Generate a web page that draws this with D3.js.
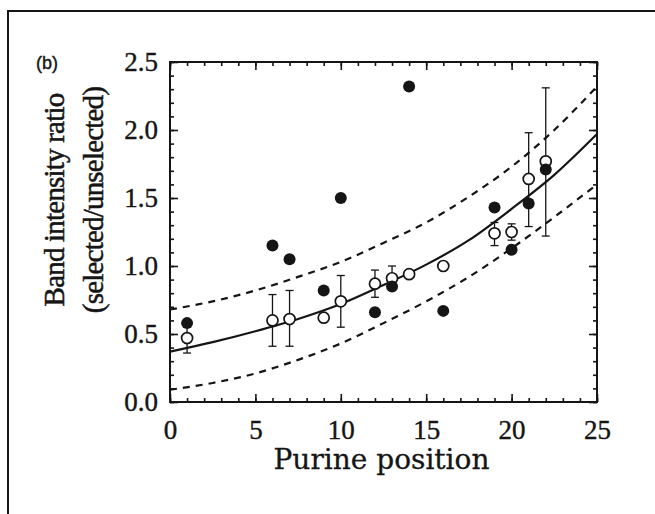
<!DOCTYPE html>
<html><head><meta charset="utf-8">
<script src="https://cdn.jsdelivr.net/npm/d3@7"></script>
<style>body{margin:0;background:#fff}svg{display:block}</style>
</head><body>
<svg id="c" width="655" height="514"></svg>
<script>
const xTickValues=[0,5,10,15,20,25];
const yTickValues=[0,0.5,1.0,1.5,2.0,2.5];
const filledX=[1,6,7,9,10,12,13,14,16,19,20,21,22];
const filledY=[0.58,1.15,1.05,0.82,1.50,0.66,0.85,2.32,0.67,1.43,1.12,1.46,1.71];
const openX=[1,6,7,9,10,12,13,14,16,19,20,21,22];
const openY=[0.47,0.60,0.61,0.62,0.74,0.87,0.91,0.94,1.00,1.24,1.25,1.64,1.77];
const openLo=[0.36,0.41,0.41,0.62,0.55,0.77,0.85,0.94,1.00,1.15,1.19,1.29,1.22];
const openHi=[0.55,0.79,0.82,0.62,0.93,0.97,1.00,0.94,1.00,1.32,1.31,1.98,2.31];
const fitX=[0,2.5,5,7.5,10,12.5,15,17.5,20,22.5,25];
const fitY=[0.37,0.44,0.52,0.61,0.72,0.86,1.01,1.19,1.42,1.67,1.97];
const upperY=[0.68,0.74,0.82,0.92,1.03,1.17,1.32,1.51,1.73,2.00,2.32];
const lowerY=[0.09,0.14,0.21,0.31,0.43,0.58,0.74,0.92,1.13,1.36,1.60];

const svg=d3.select("#c");
const L=170,R=597,T=62,B=402;
const x=d3.scaleLinear().domain([0,25]).range([L,R]);
const y=d3.scaleLinear().domain([0,2.5]).range([B,T]);
const ink="#151515";

// page border (top and left)
svg.append("path").attr("d","M8,514V11H655").attr("fill","none").attr("stroke",ink).attr("stroke-width",2);
svg.append("text").attr("x",36).attr("y",69).attr("font-family","Liberation Sans, Arial, sans-serif")
  .attr("font-size",18).attr("fill",ink).attr("stroke",ink).attr("stroke-width",0.4).text("(b)");

const minorX=d3.range(0,26,1), minorY=d3.range(0,26,1).map(d=>d/10);
function axisStyle(g){g.select(".domain").remove();g.selectAll("line").attr("stroke",ink).attr("stroke-width",1.6);}
const labelStyle=s=>s.attr("font-family","Liberation Serif, serif").attr("font-size",27).attr("fill",ink)
  .attr("stroke",ink).attr("stroke-width",0.4);
// bottom
svg.append("g").attr("transform",`translate(0,${B})`).call(d3.axisBottom(x).tickValues(minorX).tickSize(-4).tickFormat("")).call(axisStyle);
svg.append("g").attr("transform",`translate(0,${B})`).call(d3.axisBottom(x).tickValues(xTickValues).tickSize(-8).tickPadding(18).tickFormat(d3.format("d"))).call(axisStyle)
  .selectAll("text").call(labelStyle);
// top
svg.append("g").attr("transform",`translate(0,${T})`).call(d3.axisTop(x).tickValues(minorX).tickSize(-4).tickFormat("")).call(axisStyle);
svg.append("g").attr("transform",`translate(0,${T})`).call(d3.axisTop(x).tickValues(xTickValues).tickSize(-8).tickFormat("")).call(axisStyle);
// left
svg.append("g").attr("transform",`translate(${L},0)`).call(d3.axisLeft(y).tickValues(minorY).tickSize(-4).tickFormat("")).call(axisStyle);
svg.append("g").attr("transform",`translate(${L},0)`).call(d3.axisLeft(y).tickValues(yTickValues).tickSize(-8).tickPadding(12).tickFormat(d3.format(".1f"))).call(axisStyle)
  .selectAll("text").call(labelStyle);
// right
svg.append("g").attr("transform",`translate(${R},0)`).call(d3.axisRight(y).tickValues(minorY).tickSize(-4).tickFormat("")).call(axisStyle);
svg.append("g").attr("transform",`translate(${R},0)`).call(d3.axisRight(y).tickValues(yTickValues).tickSize(-8).tickFormat("")).call(axisStyle);
// frame
svg.append("rect").attr("x",L).attr("y",T).attr("width",R-L).attr("height",B-T).attr("fill","none").attr("stroke",ink).attr("stroke-width",2);

// curves
const line=d3.line().x((d,i)=>x(fitX[i])).y(d=>y(d)).curve(d3.curveMonotoneX);
svg.append("path").attr("d",line(fitY)).attr("fill","none").attr("stroke",ink).attr("stroke-width",2.2);
svg.append("path").attr("d",line(upperY)).attr("fill","none").attr("stroke",ink).attr("stroke-width",2.2).attr("stroke-dasharray","7,6");
svg.append("path").attr("d",line(lowerY)).attr("fill","none").attr("stroke",ink).attr("stroke-width",2.2).attr("stroke-dasharray","7,6");

// error bars
const eb=svg.append("g").attr("stroke",ink).attr("stroke-width",1.3);
openX.forEach((xv,i)=>{
  if(openHi[i]-openLo[i]<0.03) return;
  eb.append("line").attr("x1",x(xv)).attr("x2",x(xv)).attr("y1",y(openLo[i])).attr("y2",y(openHi[i]));
  [openLo[i],openHi[i]].forEach(v=>eb.append("line").attr("x1",x(xv)-4).attr("x2",x(xv)+4).attr("y1",y(v)).attr("y2",y(v)));
});
// open circles
svg.append("g").selectAll("circle").data(openX).join("circle")
  .attr("cx",d=>x(d)).attr("cy",(d,i)=>y(openY[i])).attr("r",5.5)
  .attr("fill","#fff").attr("stroke",ink).attr("stroke-width",1.7);
// filled circles
svg.append("g").selectAll("circle").data(filledX).join("circle")
  .attr("cx",d=>x(d)).attr("cy",(d,i)=>y(filledY[i])).attr("r",6).attr("fill",ink);

// axis titles
svg.append("text").attr("x",(L+R)/2-2).attr("y",469).attr("text-anchor","middle")
  .attr("font-family","DejaVu Serif, serif").attr("font-size",28).attr("fill",ink)
  .attr("stroke",ink).attr("stroke-width",0.3).text("Purine position");
const yt=svg.append("g").attr("transform","translate(0,200) rotate(-90)");
yt.append("text").attr("x",0).attr("y",64).attr("text-anchor","middle")
  .attr("font-family","Liberation Serif, serif").attr("font-size",29).attr("fill",ink).attr("letter-spacing",-0.8)
  .attr("stroke",ink).attr("stroke-width",0.5).text("Band intensity ratio");
yt.append("text").attr("x",0).attr("y",103).attr("text-anchor","middle")
  .attr("font-family","Liberation Serif, serif").attr("font-size",29).attr("fill",ink).attr("letter-spacing",-0.8)
  .attr("stroke",ink).attr("stroke-width",0.5).text("(selected/unselected)");
</script>
</body></html>
